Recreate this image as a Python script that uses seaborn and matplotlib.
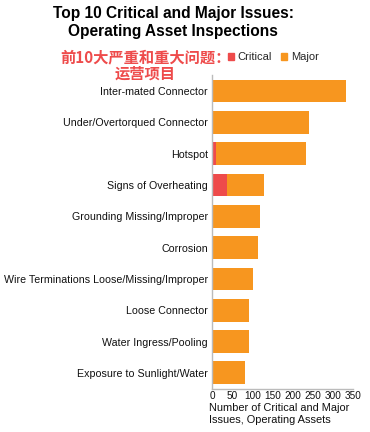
import matplotlib
matplotlib.use("Agg")
import matplotlib.pyplot as plt
import seaborn as sns
import pandas as pd
from matplotlib.patches import Patch

issues = [
    "Inter-mated Connector",
    "Under/Overtorqued Connector",
    "Hotspot",
    "Signs of Overheating",
    "Grounding Missing/Improper",
    "Corrosion",
    "Wire Terminations Loose/Missing/Improper",
    "Loose Connector",
    "Water Ingress/Pooling",
    "Exposure to Sunlight/Water",
]
critical = [0, 0, 10, 36, 1, 0, 0, 0, 2, 0]
major = [332, 241, 224, 94, 117, 113, 101, 91, 89, 83]

ORANGE = "#F7961F"
RED = "#EE4B4B"

df = pd.DataFrame({"issue": issues, "critical": critical, "major": major})
df["total"] = df["critical"] + df["major"]

sns.set_style("white")
plt.rcParams["font.family"] = ["Liberation Sans", "Noto Sans CJK SC", "DejaVu Sans"]

fig = plt.figure(figsize=(3.7, 4.32), dpi=100)
ax = fig.add_axes([0.573, 0.1005, 0.381, 0.725])

sns.barplot(data=df, y="issue", x="total", color=ORANGE, width=0.73,
            saturation=1, linewidth=0, ax=ax)
sns.barplot(data=df, y="issue", x="critical", color=RED, width=0.73,
            saturation=1, linewidth=0, ax=ax)

ax.set_xlim(0, 350)
ax.set_xticks(range(0, 351, 50))
ax.set_ylim(9.5, -0.5)
ax.set_ylabel("")
ax.set_xlabel("")
for s in ["top", "right"]:
    ax.spines[s].set_visible(False)
for s in ["left", "bottom"]:
    ax.spines[s].set_color("#BBBBBB")
    ax.spines[s].set_linewidth(1.0)
ax.tick_params(axis="y", length=0, labelsize=7.7, colors="#111111", pad=3)
ax.tick_params(axis="x", length=0, labelsize=7.2, colors="#111111", pad=2)

fig.text(0.566, 0.066, "Number of Critical and Major\nIssues, Operating Assets",
         ha="left", va="top", fontsize=7.9, color="#111111", linespacing=1.25)

fig.text(0.468, 0.987, "Top 10 Critical and Major Issues:\nOperating Asset Inspections",
         ha="center", va="top", fontsize=11.2, fontweight="bold", color="black",
         linespacing=1.25)
fig.text(0.392, 0.885, "前10大严重和重大问题：\n运营项目", ha="center", va="top",
         fontsize=11, fontweight="bold", color=RED, linespacing=1.0,
         family=["Noto Sans CJK SC", "DejaVu Sans"])

handles = [Patch(color=RED, label="Critical"), Patch(color=ORANGE, label="Major")]
fig.legend(handles=handles, loc="center left", bbox_to_anchor=(0.615, 0.867),
           ncol=2, frameon=False, fontsize=8, handlelength=0.6, handleheight=0.6,
           handletextpad=0.3, columnspacing=0.8, borderaxespad=0, borderpad=0)

fig.savefig("out.png", dpi=100)
